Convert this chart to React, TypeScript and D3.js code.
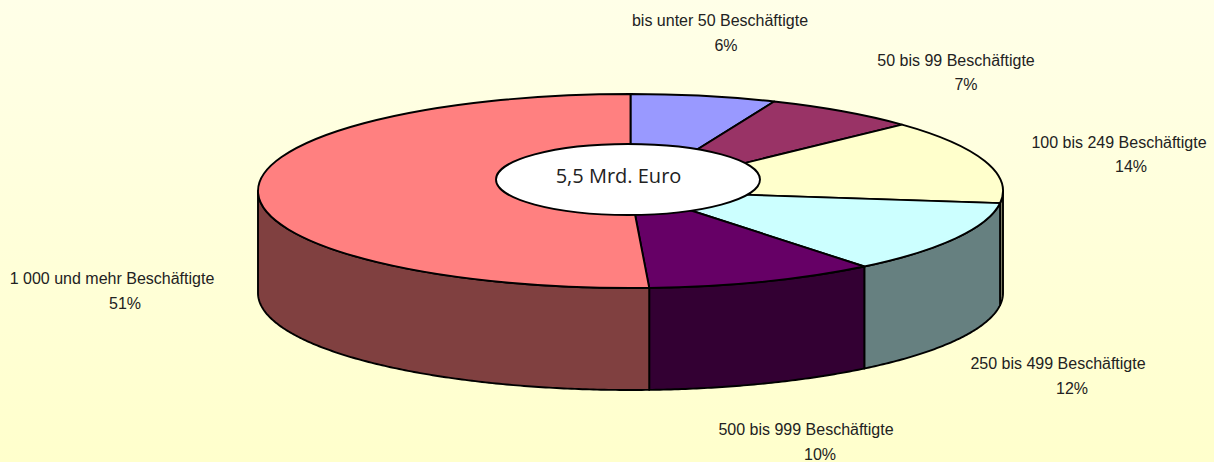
import React from "react";
import * as d3 from "d3";

const WIDTH = 1214;
const HEIGHT = 462;

const categories = [
  "bis unter 50 Beschäftigte",
  "50 bis 99 Beschäftigte",
  "100 bis 249 Beschäftigte",
  "250 bis 499 Beschäftigte",
  "500 bis 999 Beschäftigte",
  "1 000 und mehr Beschäftigte",
];
// shares in percent (labels show them rounded)
const shares = [6.3, 6.7, 14.0, 12.2, 10.0, 50.8];
const topColors = ["#9999ff", "#993366", "#ffffcc", "#ccffff", "#660066", "#ff8080"];
const sideColors = ["#4d4d80", "#4d1a33", "#808066", "#668080", "#330033", "#804040"];
const centerLabel = "5,5 Mrd. Euro";

// label layout: centre of name, centre of percent, baseline of name, baseline of percent
const labelLayout = [
  [720, 726, 26, 51],
  [956, 966, 66, 90],
  [1119, 1131, 148, 172],
  [1058, 1072, 369, 394],
  [806, 820, 435, 460],
  [112, 125, 284, 309],
];

const cx = 630.5;
const cy = 191;
const rx = 372.5;
const ry = 97;
const depth = 102;

const pie = d3.pie<number>().sort(null).value((d) => d);
const slices = pie(shares);
const arc = d3.arc<d3.PieArcDatum<number>>().innerRadius(0).outerRadius(rx);
const line = d3.line();
const pct = d3.format(".0f");

// point on the rim, angle measured clockwise from the top like d3.arc
const rim = (a: number, dy = 0): [number, number] => [
  cx + rx * Math.sin(a),
  cy - ry * Math.cos(a) + dy,
];

// side wall of a slice, only the part on the front half is visible
function wallPath(start: number, end: number) {
  const a0 = Math.max(start, Math.PI / 2);
  const a1 = Math.min(end, (3 * Math.PI) / 2);
  if (a1 <= a0) return null;
  const angles = d3.range(a0, a1, 0.01).concat(a1);
  const top = angles.map((a) => rim(a));
  const bottom = angles.map((a) => rim(a, depth)).reverse();
  return line(top.concat(bottom)) + "Z";
}

export default function App() {
  return (
    <svg
      width={WIDTH}
      height={HEIGHT}
      style={{ position: "fixed", left: 0, top: 0, display: "block" }}
    >
      <defs>
        <linearGradient id="bg" x1="0" y1="0" x2="0" y2="1">
          <stop offset="0" stopColor="#ffffe8" />
          <stop offset="1" stopColor="#ffffcc" />
        </linearGradient>
      </defs>
      <rect width={WIDTH} height={HEIGHT} fill="url(#bg)" />

      {/* side walls */}
      <g stroke="#000" strokeWidth={1.9} strokeLinejoin="round">
        {slices.map((s, i) => {
          const d = wallPath(s.startAngle, s.endAngle);
          return d ? <path key={i} d={d} fill={sideColors[i]} /> : null;
        })}
      </g>

      {/* top face, unit pie squashed into the ellipse */}
      <g transform={`translate(${cx},${cy}) scale(1,${ry / rx})`}>
        {slices.map((s, i) => (
          <path
            key={i}
            d={arc(s) as string}
            fill={topColors[i]}
            stroke="#000"
            strokeWidth={1.9}
            strokeLinejoin="round"
            vectorEffect="non-scaling-stroke"
          />
        ))}
      </g>

      {/* centre ellipse */}
      <ellipse cx={628} cy={179.5} rx={132} ry={35.5} fill="#fff" stroke="#000" strokeWidth={1.9} />
      <text
        x={618.5}
        y={183}
        textAnchor="middle"
        fontFamily="'Open Sans', sans-serif"
        fontSize={20}
        fill="#222"
      >
        {centerLabel}
      </text>

      {/* labels */}
      <g fontFamily="'Liberation Sans', Arial, sans-serif" fontSize={16} fill="#222" textAnchor="middle">
        {categories.map((c, i) => (
          <g key={c}>
            <text x={labelLayout[i][0]} y={labelLayout[i][2]}>{c}</text>
            <text x={labelLayout[i][1]} y={labelLayout[i][3]}>{pct(shares[i])}%</text>
          </g>
        ))}
      </g>
    </svg>
  );
}
